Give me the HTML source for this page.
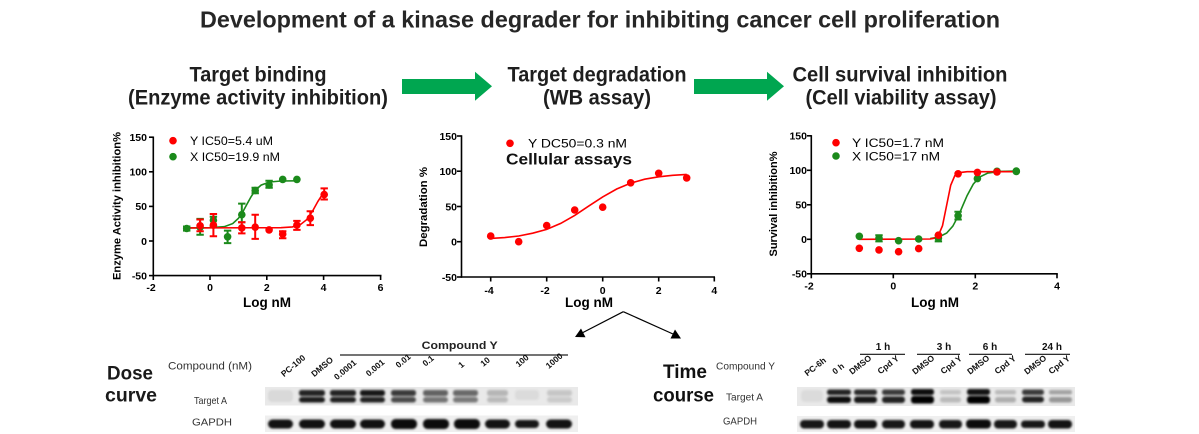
<!DOCTYPE html>
<html><head><meta charset="utf-8"><style>
html,body{margin:0;padding:0;background:#fff;}
svg{display:block;}
text{font-family:"Liberation Sans",Arial,sans-serif;}
</style></head><body>
<svg width="1199" height="434" viewBox="0 0 1199 434" xmlns="http://www.w3.org/2000/svg">
<defs>
<filter id="bl" x="-20%" y="-50%" width="140%" height="200%"><feGaussianBlur stdDeviation="1.1"/></filter>
</defs>
<rect width="1199" height="434" fill="#fff"/>

<!-- Title -->
<text x="600" y="27.3" text-anchor="middle" font-size="23" font-weight="bold" fill="#262626" textLength="800" lengthAdjust="spacingAndGlyphs">Development of a kinase degrader for inhibiting cancer cell proliferation</text>

<!-- Headings -->
<g font-size="21" font-weight="bold" fill="#1e1e1e" text-anchor="middle">
<text x="258" y="81.7" textLength="137" lengthAdjust="spacingAndGlyphs">Target binding</text>
<text x="258" y="104.5" textLength="260" lengthAdjust="spacingAndGlyphs">(Enzyme activity inhibition)</text>
<text x="597" y="81.7" textLength="179" lengthAdjust="spacingAndGlyphs">Target degradation</text>
<text x="597" y="104.5" textLength="108" lengthAdjust="spacingAndGlyphs">(WB assay)</text>
<text x="900" y="81.7" textLength="215" lengthAdjust="spacingAndGlyphs">Cell survival inhibition</text>
<text x="901" y="104.5" textLength="191" lengthAdjust="spacingAndGlyphs">(Cell viability assay)</text>
</g>

<!-- Green arrows -->
<polygon points="402,79 475,79 475,71.7 492,86.3 475,100.7 475,94 402,94" fill="#00a650"/>
<polygon points="694,79 767,79 767,71.7 784,86.3 767,100.7 767,94 694,94" fill="#00a650"/>

<!-- ================= Chart 1 ================= -->
<g stroke="#000" stroke-width="1.6" fill="none">
<line x1="153.3" y1="136.5" x2="153.3" y2="276"/>
<line x1="152.5" y1="275.6" x2="381.5" y2="275.6"/>
<line x1="149" y1="137.2" x2="153.3" y2="137.2"/>
<line x1="149" y1="171.8" x2="153.3" y2="171.8"/>
<line x1="149" y1="206.4" x2="153.3" y2="206.4"/>
<line x1="149" y1="241" x2="153.3" y2="241"/>
<line x1="149" y1="275.6" x2="153.3" y2="275.6"/>
<line x1="153.3" y1="275.6" x2="153.3" y2="280"/>
<line x1="210" y1="275.6" x2="210" y2="280"/>
<line x1="266.8" y1="275.6" x2="266.8" y2="280"/>
<line x1="323.6" y1="275.6" x2="323.6" y2="280"/>
<line x1="380.6" y1="275.6" x2="380.6" y2="280"/>
</g>
<g font-size="10.5" font-weight="bold" fill="#000" text-anchor="end">
<text x="147" y="141">150</text><text x="147" y="175.6">100</text><text x="147" y="210.2">50</text><text x="147" y="244.8">0</text><text x="147" y="279.4">-50</text>
</g>
<g font-size="10.5" font-weight="bold" fill="#000" text-anchor="middle">
<text x="151" y="291">-2</text><text x="210" y="291">0</text><text x="266.8" y="291">2</text><text x="323.6" y="291">4</text><text x="380.6" y="291">6</text>
</g>
<text x="267" y="307" font-size="13.5" font-weight="bold" text-anchor="middle">Log nM</text>
<text transform="translate(120.5,206) rotate(-90)" font-size="11" font-weight="bold" text-anchor="middle" textLength="148" lengthAdjust="spacingAndGlyphs">Enzyme Activity inhibition%</text>
<circle cx="173" cy="140.7" r="3.8" fill="#ff0000"/>
<text x="190" y="145" font-size="12" textLength="83" lengthAdjust="spacingAndGlyphs">Y IC50=5.4 uM</text>
<circle cx="173" cy="156.7" r="3.8" fill="#1b8a1b"/>
<text x="190" y="161" font-size="12" textLength="90" lengthAdjust="spacingAndGlyphs">X IC50=19.9 nM</text>

<!-- curves chart1 -->
<polyline fill="none" stroke="#1b8a1b" stroke-width="1.6" points="186.7,227.9 210,227.7 224.2,226.7 232.7,223.6 238.4,218.4 242.7,212.1 246.9,204.3 251.2,196.5 255.4,190.2 261.1,185.1 269.6,182 281,181 296.9,180.8"/>
<polyline fill="none" stroke="#ff0000" stroke-width="1.6" points="186.7,227.9 281,227.7 292.4,226.9 300.9,224.2 306.6,219.7 312.2,211.7 317.9,201.4 324.2,191.7"/>
<!-- green error bars -->
<g stroke="#1b8a1b" stroke-width="2" fill="none">
<path d="M186.7,230.6V226.5M183,230.6h7.4M183,226.5h7.4"/>
<path d="M200.1,234.8V218.9M196.4,234.8h7.4M196.4,218.9h7.4"/>
<path d="M213.4,226.5V216.8M209.7,226.5h7.4M209.7,216.8h7.4"/>
<path d="M227.6,243.1V230.6M223.9,243.1h7.4M223.9,230.6h7.4"/>
<path d="M241.8,222.3V203.6M238.1,222.3h7.4M238.1,203.6h7.4"/>
<path d="M255.2,193.3V187.7M251.5,193.3h7.4M251.5,187.7h7.4"/>
<path d="M269.1,187.7V180.8M265.4,187.7h7.4M265.4,180.8h7.4"/>
</g>
<g fill="#1b8a1b">
<circle cx="186.7" cy="228.5" r="3.8"/><circle cx="200.1" cy="227.2" r="3.8"/><circle cx="213.4" cy="220.2" r="3.8"/><circle cx="227.6" cy="236.8" r="3.8"/><circle cx="241.8" cy="214.7" r="3.8"/><circle cx="255.2" cy="190.5" r="3.8"/><circle cx="269.1" cy="184.9" r="3.8"/><circle cx="282.7" cy="179.4" r="3.8"/><circle cx="296.9" cy="179.4" r="3.8"/>
</g>
<g stroke="#ff0000" stroke-width="2" fill="none">
<path d="M200.1,231.3V219.5M196.4,231.3h7.4M196.4,219.5h7.4"/>
<path d="M213.4,236.2V214M209.7,236.2h7.4M209.7,214h7.4"/>
<path d="M241.8,233.4V222.3M238.1,233.4h7.4M238.1,222.3h7.4"/>
<path d="M255.2,238.9V214.7M251.5,238.9h7.4M251.5,214.7h7.4"/>
<path d="M282.7,238.2V231.3M279,238.2h7.4M279,231.3h7.4"/>
<path d="M296.9,229.9V220.9M293.2,229.9h7.4M293.2,220.9h7.4"/>
<path d="M310.3,225.1V211.2M306.6,225.1h7.4M306.6,211.2h7.4"/>
<path d="M324.2,199.5V188.4M320.5,199.5h7.4M320.5,188.4h7.4"/>
</g>
<g fill="#ff0000">
<circle cx="200.1" cy="225.8" r="3.8"/><circle cx="213.4" cy="225.1" r="3.8"/><circle cx="241.8" cy="227.9" r="3.8"/><circle cx="255.2" cy="227.2" r="3.8"/><circle cx="269.1" cy="229.9" r="3.8"/><circle cx="282.7" cy="234.1" r="3.8"/><circle cx="296.9" cy="225.1" r="3.8"/><circle cx="310.3" cy="218.2" r="3.8"/><circle cx="324.2" cy="194.6" r="3.8"/>
</g>

<!-- ================= Chart 2 ================= -->
<g stroke="#000" stroke-width="1.6" fill="none">
<line x1="461.5" y1="135.3" x2="461.5" y2="277.8"/>
<line x1="460.7" y1="277" x2="715" y2="277"/>
<line x1="457" y1="136" x2="461.5" y2="136"/>
<line x1="457" y1="171.2" x2="461.5" y2="171.2"/>
<line x1="457" y1="206.5" x2="461.5" y2="206.5"/>
<line x1="457" y1="241.7" x2="461.5" y2="241.7"/>
<line x1="457" y1="277" x2="461.5" y2="277"/>
<line x1="490.7" y1="277" x2="490.7" y2="281.5"/>
<line x1="546.7" y1="277" x2="546.7" y2="281.5"/>
<line x1="602.7" y1="277" x2="602.7" y2="281.5"/>
<line x1="658.7" y1="277" x2="658.7" y2="281.5"/>
<line x1="714.3" y1="277" x2="714.3" y2="281.5"/>
</g>
<g font-size="10.5" font-weight="bold" fill="#000" text-anchor="end">
<text x="457" y="139.8">150</text><text x="457" y="175">100</text><text x="457" y="210.3">50</text><text x="457" y="245.5">0</text><text x="457" y="280.8">-50</text>
</g>
<g font-size="10.5" font-weight="bold" fill="#000" text-anchor="middle">
<text x="489" y="294">-4</text><text x="545" y="294">-2</text><text x="602.7" y="294">0</text><text x="658.7" y="294">2</text><text x="714.3" y="294">4</text>
</g>
<text x="589" y="307" font-size="13.5" font-weight="bold" text-anchor="middle">Log nM</text>
<text transform="translate(427,207) rotate(-90)" font-size="11" font-weight="bold" text-anchor="middle" textLength="80" lengthAdjust="spacingAndGlyphs">Degradation %</text>
<circle cx="510" cy="143.3" r="3.8" fill="#ff0000"/>
<text x="528" y="147.5" font-size="12" textLength="99" lengthAdjust="spacingAndGlyphs">Y DC50=0.3 nM</text>
<text x="506" y="164.5" font-size="16" font-weight="bold" fill="#111" textLength="126" lengthAdjust="spacingAndGlyphs">Cellular assays</text>
<polyline fill="none" stroke="#ff0000" stroke-width="1.6" points="490.7,238.4 504.7,237.6 518.7,236 532.7,233.2 546.7,229.4 560.7,223.4 574.7,215.4 588.7,206.1 602.7,196.9 616.7,189 630.7,183.1 644.7,179.2 658.7,176.8 672.7,175.3 686.7,174.4"/>
<g fill="#ff0000">
<circle cx="490.7" cy="236.1" r="3.8"/><circle cx="518.7" cy="241.7" r="3.8"/><circle cx="546.7" cy="225.5" r="3.8"/><circle cx="574.7" cy="210" r="3.8"/><circle cx="602.7" cy="207.2" r="3.8"/><circle cx="630.7" cy="182.8" r="3.8"/><circle cx="658.7" cy="173.3" r="3.8"/><circle cx="686.7" cy="177.9" r="3.8"/>
</g>

<!-- ================= Chart 3 ================= -->
<g stroke="#000" stroke-width="1.6" fill="none">
<line x1="811.3" y1="135.1" x2="811.3" y2="274.6"/>
<line x1="810.5" y1="273.8" x2="1057.8" y2="273.8"/>
<line x1="807" y1="135.8" x2="811.3" y2="135.8"/>
<line x1="807" y1="170.3" x2="811.3" y2="170.3"/>
<line x1="807" y1="204.8" x2="811.3" y2="204.8"/>
<line x1="807" y1="239.3" x2="811.3" y2="239.3"/>
<line x1="807" y1="273.8" x2="811.3" y2="273.8"/>
<line x1="811.3" y1="273.8" x2="811.3" y2="278.3"/>
<line x1="893.3" y1="273.8" x2="893.3" y2="278.3"/>
<line x1="975.3" y1="273.8" x2="975.3" y2="278.3"/>
<line x1="1057" y1="273.8" x2="1057" y2="278.3"/>
</g>
<g font-size="10.5" font-weight="bold" fill="#000" text-anchor="end">
<text x="807" y="139.6">150</text><text x="807" y="174.1">100</text><text x="807" y="208.6">50</text><text x="807" y="243.1">0</text><text x="807" y="277.6">-50</text>
</g>
<g font-size="10.5" font-weight="bold" fill="#000" text-anchor="middle">
<text x="809" y="289.5">-2</text><text x="893.3" y="289.5">0</text><text x="975.3" y="289.5">2</text><text x="1057" y="289.5">4</text>
</g>
<text x="935" y="307" font-size="13.5" font-weight="bold" text-anchor="middle">Log nM</text>
<text transform="translate(777,204) rotate(-90)" font-size="11" font-weight="bold" text-anchor="middle" textLength="105" lengthAdjust="spacingAndGlyphs">Survival inhibition%</text>
<circle cx="836" cy="142.7" r="3.8" fill="#ff0000"/>
<text x="852" y="147" font-size="12" textLength="92" lengthAdjust="spacingAndGlyphs">Y IC50=1.7 nM</text>
<circle cx="836" cy="156" r="3.8" fill="#1b8a1b"/>
<text x="852" y="160.3" font-size="12" textLength="88" lengthAdjust="spacingAndGlyphs">X IC50=17 nM</text>
<polyline fill="none" stroke="#1b8a1b" stroke-width="1.6" points="930.2,238.6 938.4,237.2 946.6,233.1 952.8,226.2 958.9,214.7 963,205.1 967.1,195.6 973.3,184.1 979.4,177.2 987.6,173.1 999.9,171.4 1016.3,171"/>
<polyline fill="none" stroke="#ff0000" stroke-width="1.6" points="859.3,239.3 930.2,239 934.3,238.2 938.4,235.3 942.5,225.7 946.6,205.5 950.7,185.3 954.8,175.7 958.9,172.7 967.1,171.7 1016.3,171.7"/>
<g stroke="#1b8a1b" stroke-width="2" fill="none">
<path d="M879,241.4V235.2M875.3,241.4h7.4M875.3,235.2h7.4"/>
<path d="M938.4,241.4V235.2M934.7,241.4h7.4M934.7,235.2h7.4"/>
<path d="M958.1,219.5V211.8M954.4,219.5h7.4M954.4,211.8h7.4"/>
</g>
<g fill="#1b8a1b">
<circle cx="859.3" cy="236.3" r="3.8"/><circle cx="879" cy="238.3" r="3.8"/><circle cx="898.6" cy="240.7" r="3.8"/><circle cx="918.7" cy="239" r="3.8"/><circle cx="938.4" cy="238.3" r="3.8"/><circle cx="958.1" cy="215.8" r="3.8"/><circle cx="977.4" cy="178.6" r="3.8"/><circle cx="997" cy="171.3" r="3.8"/><circle cx="1016.3" cy="171" r="3.8"/>
</g>
<g fill="#ff0000">
<circle cx="859.3" cy="248.3" r="3.8"/><circle cx="879" cy="249.9" r="3.8"/><circle cx="898.6" cy="251.7" r="3.8"/><circle cx="918.7" cy="248.6" r="3.8"/><circle cx="938.4" cy="235.2" r="3.8"/><circle cx="958.1" cy="173.8" r="3.8"/><circle cx="977.4" cy="172.4" r="3.8"/><circle cx="997" cy="172" r="3.8"/>
</g>
<circle cx="1016.3" cy="171.5" r="3.8" fill="#1b8a1b"/>

<!-- Split arrows -->
<g stroke="#000" stroke-width="1.2" fill="none">
<line x1="623.3" y1="311.7" x2="582" y2="333"/>
<line x1="623.3" y1="311.7" x2="673" y2="334"/>
</g>
<polygon points="575,337 581,328.5 585.5,337.3" fill="#000"/>
<polygon points="681,338.5 670.5,338.5 675,329.5" fill="#000"/>

<!-- ================= Dose curve blot ================= -->
<text x="107" y="379.5" font-size="19" font-weight="bold" fill="#1a1a1a" textLength="46" lengthAdjust="spacingAndGlyphs">Dose</text>
<text x="105" y="401.7" font-size="19" font-weight="bold" fill="#1a1a1a" textLength="52" lengthAdjust="spacingAndGlyphs">curve</text>
<text x="168" y="369.7" font-size="11" fill="#333" textLength="84" lengthAdjust="spacingAndGlyphs">Compound (nM)</text>
<text x="194" y="404" font-size="10.5" fill="#333" textLength="33" lengthAdjust="spacingAndGlyphs">Target A</text>
<text x="192" y="425.5" font-size="10.5" fill="#333" textLength="40" lengthAdjust="spacingAndGlyphs">GAPDH</text>
<text x="421.7" y="349" font-size="11" font-weight="bold" fill="#222" textLength="76" lengthAdjust="spacingAndGlyphs">Compound  Y</text>
<line x1="340" y1="355" x2="568" y2="355" stroke="#222" stroke-width="1.2"/>
<g font-size="8.5" font-weight="bold" fill="#111" text-anchor="middle">
<text transform="translate(295,368) rotate(-40)">PC-100</text>
<text transform="translate(324,369) rotate(-40)">DMSO</text>
<text transform="translate(347,372) rotate(-40)">0.0001</text>
<text transform="translate(377,370) rotate(-40)">0.001</text>
<text transform="translate(405,363) rotate(-40)">0.01</text>
<text transform="translate(430,363) rotate(-40)">0.1</text>
<text transform="translate(463,367) rotate(-40)">1</text>
<text transform="translate(487,364) rotate(-40)">10</text>
<text transform="translate(524,363) rotate(-40)">100</text>
<text transform="translate(556,363) rotate(-40)">1000</text>
</g>
<rect x="265" y="387" width="313" height="18.5" fill="#e9e9e9"/>
<rect x="265" y="415.5" width="313" height="16.5" fill="#efefef"/>
<g filter="url(#bl)" fill="#000">
<rect x="268" y="390" width="25" height="12" rx="4" opacity="0.07"/>
<rect x="299" y="390" width="26" height="6" rx="2.5" opacity="0.85"/><rect x="299" y="397" width="26" height="5.5" rx="3" opacity="0.88"/>
<rect x="330" y="390" width="26" height="6" rx="2.5" opacity="0.85"/><rect x="330" y="397" width="26" height="5.5" rx="3" opacity="0.86"/>
<rect x="360" y="390" width="25" height="6" rx="2.5" opacity="0.9"/><rect x="360" y="397" width="25" height="5.5" rx="3" opacity="0.85"/>
<rect x="391" y="390" width="25" height="6" rx="2.5" opacity="0.75"/><rect x="391" y="397" width="25" height="5.5" rx="3" opacity="0.68"/>
<rect x="423" y="390" width="25" height="6" rx="2.5" opacity="0.58"/><rect x="423" y="397" width="25" height="5.5" rx="3" opacity="0.5"/>
<rect x="453" y="390" width="25" height="6" rx="2.5" opacity="0.55"/><rect x="453" y="397" width="25" height="5.5" rx="3" opacity="0.48"/>
<rect x="487" y="390" width="21" height="6" rx="2.5" opacity="0.22"/><rect x="487" y="397" width="21" height="5.5" rx="3" opacity="0.2"/>
<rect x="515" y="390" width="24" height="10" rx="3" opacity="0.06"/>
<rect x="547" y="390" width="25" height="6" rx="2.5" opacity="0.15"/><rect x="547" y="397" width="25" height="5.5" rx="3" opacity="0.13"/>
<rect x="268" y="419.5" width="25" height="9" rx="4.5" opacity="0.92"/>
<rect x="299" y="419.5" width="26" height="9" rx="4.5" opacity="0.93"/>
<rect x="330" y="419.5" width="26" height="9" rx="4.5" opacity="0.93"/>
<rect x="360" y="419.5" width="25" height="9" rx="4.5" opacity="0.93"/>
<rect x="391" y="419" width="26" height="10" rx="4.5" opacity="0.95"/>
<rect x="423" y="419" width="26" height="10" rx="4.5" opacity="0.95"/>
<rect x="454" y="419" width="26" height="10" rx="4.5" opacity="0.95"/>
<rect x="485" y="419.5" width="25" height="9" rx="4.5" opacity="0.92"/>
<rect x="515" y="420" width="24" height="8" rx="4" opacity="0.9"/>
<rect x="546" y="419.5" width="26" height="9" rx="4.5" opacity="0.92"/>
</g>

<!-- ================= Time course blot ================= -->
<text x="663" y="378" font-size="19" font-weight="bold" fill="#111" textLength="44" lengthAdjust="spacingAndGlyphs">Time</text>
<text x="653" y="401.7" font-size="19" font-weight="bold" fill="#111" textLength="61" lengthAdjust="spacingAndGlyphs">course</text>
<text x="716" y="369.5" font-size="10" fill="#333" textLength="59" lengthAdjust="spacingAndGlyphs">Compound Y</text>
<text x="726" y="400.5" font-size="10" fill="#333" textLength="37" lengthAdjust="spacingAndGlyphs">Target A</text>
<text x="723" y="424.5" font-size="10" fill="#333" textLength="34" lengthAdjust="spacingAndGlyphs">GAPDH</text>
<g font-size="10" font-weight="bold" fill="#111" text-anchor="middle">
<text x="883" y="350">1 h</text><text x="944" y="350">3 h</text><text x="990" y="350">6 h</text><text x="1052" y="350">24 h</text>
</g>
<g stroke="#111" stroke-width="1.2">
<line x1="860" y1="354.3" x2="905" y2="354.3"/>
<line x1="917" y1="354.3" x2="960" y2="354.3"/>
<line x1="969" y1="354.3" x2="1012" y2="354.3"/>
<line x1="1025" y1="354.3" x2="1070" y2="354.3"/>
</g>
<g font-size="8.5" font-weight="bold" fill="#111" text-anchor="middle">
<text transform="translate(817,369) rotate(-38)">PC-6h</text>
<text transform="translate(840,371) rotate(-38)">0 h</text>
<text transform="translate(862,367) rotate(-38)">DMSO</text>
<text transform="translate(890,367) rotate(-38)">Cpd Y</text>
<text transform="translate(925,367) rotate(-38)">DMSO</text>
<text transform="translate(953,367) rotate(-38)">Cpd Y</text>
<text transform="translate(980,367) rotate(-38)">DMSO</text>
<text transform="translate(1007,367) rotate(-38)">Cpd Y</text>
<text transform="translate(1037,367) rotate(-38)">DMSO</text>
<text transform="translate(1061,367) rotate(-38)">Cpd Y</text>
</g>
<rect x="797" y="387" width="278" height="19" fill="#e9e9e9"/>
<rect x="797" y="416" width="278" height="16" fill="#efefef"/>
<g filter="url(#bl)" fill="#000">
<rect x="801" y="390" width="22" height="12" rx="4" opacity="0.06"/>
<rect x="827" y="389.5" width="24" height="5.5" rx="2.5" opacity="0.85"/><rect x="827" y="396.5" width="24" height="6.5" rx="3" opacity="0.95"/>
<rect x="854" y="389.5" width="23" height="5.5" rx="2.5" opacity="0.82"/><rect x="854" y="396.5" width="23" height="6.5" rx="3" opacity="0.9"/>
<rect x="882" y="389.5" width="23" height="5.5" rx="2.5" opacity="0.75"/><rect x="882" y="396.5" width="23" height="6.5" rx="3" opacity="0.85"/>
<rect x="911" y="389" width="23" height="6" rx="2.5" opacity="0.95"/><rect x="911" y="396" width="23" height="7.5" rx="3" opacity="1"/>
<rect x="940" y="390" width="21" height="4.5" rx="2" opacity="0.16"/><rect x="940" y="397" width="21" height="5.5" rx="2.5" opacity="0.2"/>
<rect x="967" y="389" width="23" height="6" rx="2.5" opacity="0.92"/><rect x="967" y="396" width="23" height="7.5" rx="3" opacity="1"/>
<rect x="995" y="390" width="21" height="4.5" rx="2" opacity="0.2"/><rect x="995" y="397" width="21" height="5.5" rx="2.5" opacity="0.25"/>
<rect x="1022" y="389.5" width="22" height="5.5" rx="2.5" opacity="0.75"/><rect x="1022" y="396.5" width="22" height="6" rx="3" opacity="0.85"/>
<rect x="1049" y="390" width="23" height="4.5" rx="2" opacity="0.3"/><rect x="1049" y="397" width="23" height="5.5" rx="2.5" opacity="0.35"/>
<rect x="800" y="420" width="24" height="8.5" rx="4" opacity="0.9"/>
<rect x="827" y="420" width="24" height="8.5" rx="4" opacity="0.92"/>
<rect x="854" y="420" width="23" height="8.5" rx="4" opacity="0.92"/>
<rect x="882" y="420" width="23" height="8.5" rx="4" opacity="0.9"/>
<rect x="910" y="420" width="24" height="8.5" rx="4" opacity="0.92"/>
<rect x="939" y="420" width="23" height="8.5" rx="4" opacity="0.9"/>
<rect x="966" y="419.5" width="25" height="9" rx="4" opacity="0.95"/>
<rect x="994" y="420" width="23" height="8.5" rx="4" opacity="0.9"/>
<rect x="1021" y="420.5" width="24" height="7.5" rx="3.5" opacity="0.9"/>
<rect x="1048" y="420" width="24" height="8.5" rx="4" opacity="0.92"/>
</g>
</svg>
</body></html>
